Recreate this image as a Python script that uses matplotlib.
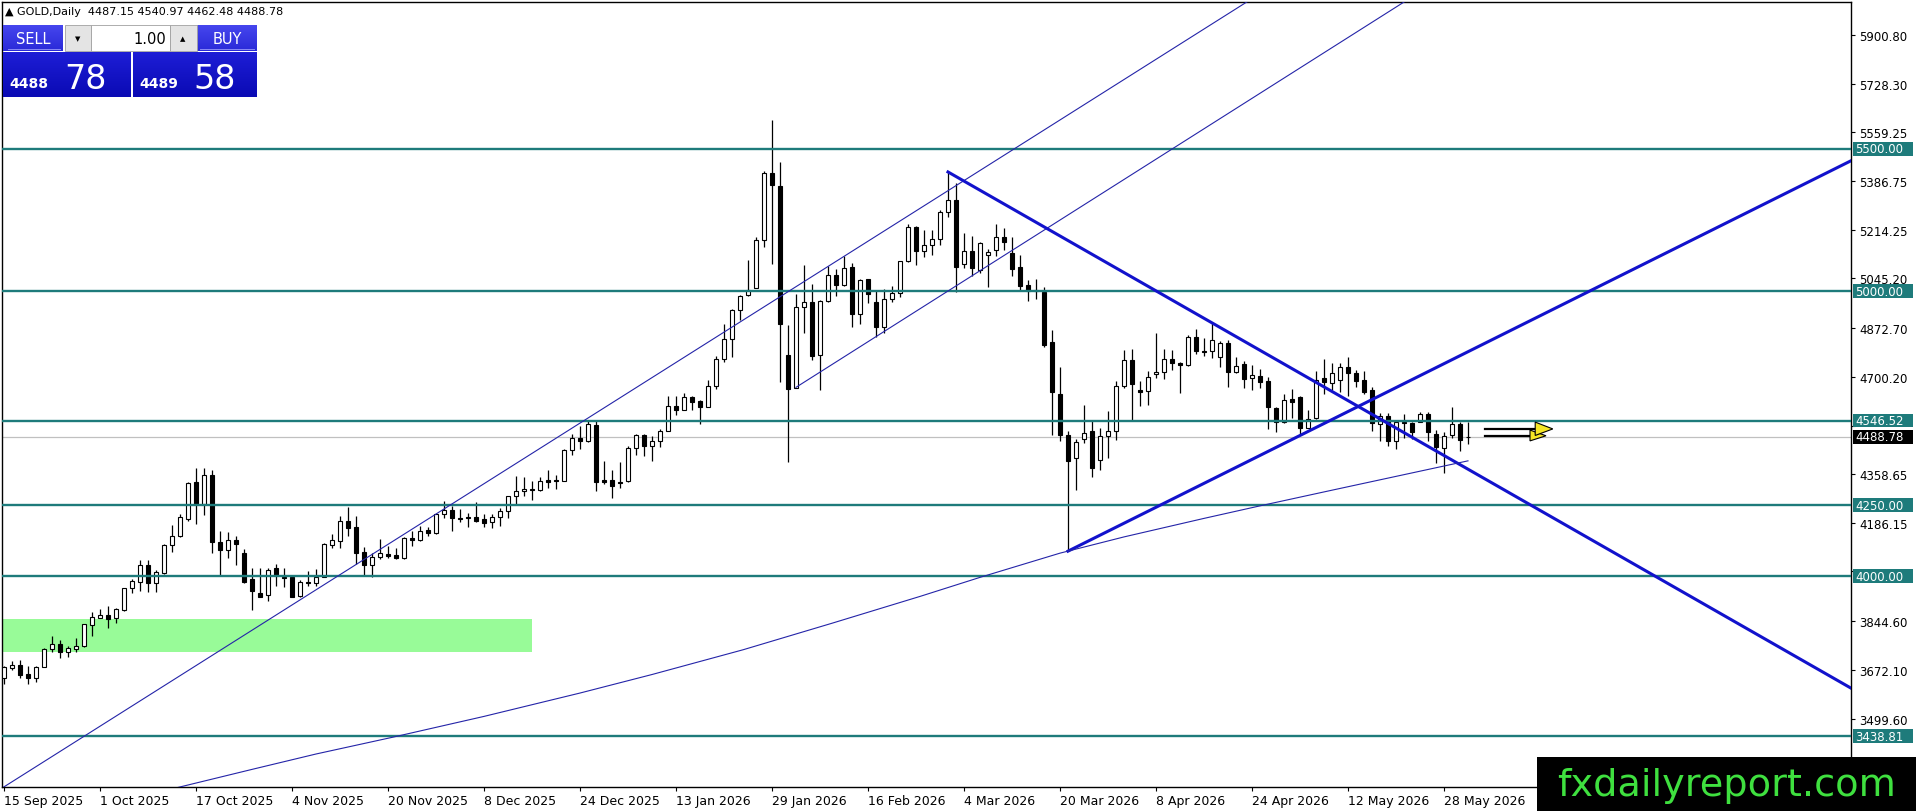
import numpy as np
import matplotlib.pyplot as plt
import matplotlib.transforms as mtransforms
from matplotlib.patches import Rectangle, Polygon
from matplotlib.colors import LinearSegmentedColormap

W, H = 1916, 812

# daily OHLC (bar 0 = 15 Sep 2025)
opens = [3642, 3677, 3688, 3656, 3642, 3683, 3743, 3761, 3733, 3745,
         3754, 3830, 3854, 3864, 3852, 3881, 3957, 3981, 4039, 3975,
         4011, 4110, 4140, 4201, 4330, 4254, 4355, 4121, 4093, 4127,
         4080, 3990, 3941, 3934, 4028, 3998, 3998, 3929, 3981, 3975,
         3998, 4111, 4125, 4193, 4172, 4086, 4041, 4069, 4078, 4074,
         4063, 4133, 4128, 4163, 4152, 4217, 4234, 4206, 4209, 4207,
         4200, 4189, 4208, 4228, 4280, 4298, 4306, 4302, 4337, 4337,
         4335, 4444, 4484, 4475, 4532, 4337, 4338, 4332, 4333, 4450,
         4497, 4456, 4476, 4511, 4596, 4585, 4628, 4616, 4593, 4666,
         4763, 4831, 4934, 4987, 5012, 5179, 5415, 5371, 4778, 4661,
         4945, 4963, 4778, 4965, 5059, 5023, 5086, 4921, 5043, 4963,
         4875, 4974, 4994, 5105, 5226, 5141, 5164, 5184, 5278, 5322,
         5096, 5141, 5076, 5129, 5146, 5191, 5135, 5086, 5022, 5006,
         4998, 4822, 4641, 4497, 4415, 4481, 4509, 4409, 4493, 4509,
         4667, 4760, 4653, 4649, 4710, 4717, 4763, 4750, 4743, 4840,
         4790, 4790, 4770, 4819, 4717, 4746, 4695, 4703, 4684, 4590,
         4540, 4623, 4629, 4520, 4555, 4695, 4678, 4689, 4734, 4713,
         4689, 4652, 4535, 4564, 4476, 4543, 4537, 4543, 4570, 4499,
         4450, 4494, 4535, 4487.15]
highs = [3686, 3701, 3706, 3684, 3684, 3747, 3789, 3777, 3756, 3782,
         3832, 3873, 3885, 3894, 3887, 3960, 3990, 4057, 4057, 4021,
         4113, 4180, 4218, 4332, 4379, 4379, 4374, 4160, 4154, 4142,
         4095, 4028, 4028, 4028, 4043, 4028, 4002, 3988, 4017, 4025,
         4115, 4147, 4210, 4242, 4210, 4104, 4082, 4131, 4107, 4098,
         4137, 4160, 4175, 4172, 4220, 4265, 4248, 4236, 4221, 4262,
         4218, 4220, 4238, 4283, 4353, 4347, 4335, 4347, 4373, 4355,
         4447, 4499, 4528, 4546, 4546, 4406, 4374, 4402, 4456, 4499,
         4499, 4493, 4517, 4634, 4634, 4643, 4634, 4620, 4690, 4772,
         4887, 4938, 4988, 5111, 5191, 5421, 5600, 5453, 4883, 4992,
         5091, 5024, 4971, 5088, 5078, 5123, 5100, 5043, 5045, 5006,
         5009, 5020, 5108, 5238, 5228, 5216, 5216, 5287, 5419, 5380,
         5205, 5193, 5172, 5149, 5236, 5222, 5191, 5126, 5039, 5043,
         5015, 4863, 4735, 4509, 4480, 4602, 4550, 4520, 4579, 4684,
         4793, 4799, 4684, 4719, 4854, 4798, 4793, 4751, 4845, 4868,
         4836, 4889, 4825, 4828, 4770, 4754, 4742, 4727, 4699, 4593,
         4640, 4657, 4632, 4584, 4722, 4762, 4750, 4750, 4769, 4724,
         4719, 4664, 4572, 4572, 4547, 4570, 4541, 4575, 4575, 4512,
         4505, 4593, 4540, 4540.97]
lows = [3622, 3672, 3642, 3622, 3628, 3681, 3735, 3714, 3718, 3733,
        3750, 3789, 3854, 3817, 3835, 3879, 3941, 3948, 3943, 3943,
        4008, 4086, 4138, 4195, 4183, 4215, 4082, 4002, 4063, 4041,
        3976, 3883, 3926, 3912, 3967, 3961, 3926, 3926, 3967, 3967,
        3996, 4098, 4098, 4142, 4043, 4002, 3996, 4060, 4063, 4060,
        4060, 4107, 4125, 4142, 4148, 4203, 4160, 4189, 4172, 4189,
        4172, 4168, 4177, 4203, 4252, 4283, 4269, 4300, 4309, 4306,
        4333, 4425, 4446, 4470, 4300, 4324, 4273, 4309, 4332, 4427,
        4421, 4406, 4452, 4509, 4566, 4584, 4585, 4535, 4593, 4657,
        4751, 4770, 4898, 4985, 5012, 5156, 5097, 4681, 4400, 4661,
        4852, 4758, 4655, 4962, 4985, 5018, 4875, 4887, 4959, 4840,
        4852, 4961, 4980, 5102, 5094, 5119, 5129, 5164, 5261, 4997,
        5082, 5053, 5065, 5015, 5123, 5146, 5053, 5006, 4965, 4973,
        4804, 4497, 4474, 4088, 4304, 4468, 4348, 4372, 4415, 4477,
        4661, 4550, 4596, 4602, 4696, 4694, 4725, 4643, 4739, 4780,
        4772, 4766, 4735, 4664, 4714, 4661, 4654, 4660, 4517, 4505,
        4537, 4555, 4500, 4520, 4551, 4640, 4654, 4645, 4633, 4664,
        4640, 4508, 4476, 4458, 4447, 4485, 4481, 4540, 4476, 4397,
        4362, 4485, 4441, 4462.48]
closes = [3680, 3688, 3654, 3642, 3681, 3744, 3761, 3733, 3747, 3756,
          3831, 3856, 3864, 3850, 3885, 3957, 3983, 4039, 3975, 4014,
          4110, 4140, 4207, 4327, 4254, 4355, 4121, 4093, 4127, 4112,
          3979, 3947, 3928, 4022, 4005, 3994, 3928, 3979, 3975, 3998,
          4113, 4127, 4193, 4168, 4082, 4041, 4069, 4080, 4072, 4063,
          4133, 4128, 4160, 4152, 4217, 4234, 4203, 4200, 4204, 4195,
          4188, 4208, 4228, 4280, 4299, 4306, 4301, 4335, 4329, 4333,
          4443, 4484, 4476, 4534, 4330, 4332, 4318, 4327, 4450, 4496,
          4456, 4476, 4509, 4596, 4585, 4628, 4613, 4593, 4669, 4763,
          4831, 4936, 4985, 5006, 5181, 5415, 5372, 4885, 4657, 4945,
          4961, 4774, 4967, 5056, 5021, 5082, 4921, 5039, 4991, 4875,
          4973, 4994, 5105, 5226, 5141, 5164, 5184, 5279, 5322, 5084,
          5141, 5082, 5170, 5138, 5191, 5173, 5079, 5018, 5002, 5001,
          4813, 4646, 4494, 4403, 4470, 4503, 4380, 4493, 4509, 4667,
          4760, 4675, 4647, 4698, 4718, 4763, 4749, 4743, 4840, 4790,
          4786, 4828, 4819, 4717, 4739, 4692, 4707, 4680, 4593, 4541,
          4619, 4610, 4520, 4551, 4687, 4680, 4713, 4734, 4713, 4684,
          4645, 4537, 4561, 4476, 4540, 4537, 4505, 4569, 4505, 4452,
          4493, 4534, 4479, 4488.78]

date_labels = ["15 Sep 2025", "1 Oct 2025", "17 Oct 2025", "4 Nov 2025", "20 Nov 2025",
               "8 Dec 2025", "24 Dec 2025", "13 Jan 2026", "29 Jan 2026", "16 Feb 2026",
               "4 Mar 2026", "20 Mar 2026", "8 Apr 2026", "24 Apr 2026", "12 May 2026",
               "28 May 2026"]
date_step = 12

price_ticks = [5900.80, 5728.30, 5559.25, 5386.75, 5214.25, 5045.20, 4872.70, 4700.20,
               4527.70, 4358.65, 4186.15, 4017.10, 3844.60, 3672.10, 3499.60]
hidden_ticks = [4527.70, 4017.10]   # covered by level labels
levels = [5500.00, 5000.00, 4546.52, 4250.00, 4000.00, 3438.81]
bid = 4488.78

zone_bars = (-5, 66)
zone_prices = (3735, 3850)

# trend line anchors (bar, price)
chan_upper = [(45.75, 4072), (87, 4803.5)]
chan_lower = [(99, 4663), (125.75, 5139)]
down_line = [(118, 5419), (157, 4793)]
up_line = [(133, 4088), (185.75, 4826.5)]

# moving average curve
ma_bars = [15, 21.8, 31, 39, 48.6, 60, 72, 81, 92.4, 103.5, 114.6, 122, 132,
           140, 150, 157, 166, 183]
ma_vals = [3212, 3259, 3322, 3376, 3435, 3508, 3590, 3655, 3742, 3835, 3930, 3996,
           4081, 4138, 4203, 4247, 4302, 4405]

# yellow arrow object
arrow_shaft = (185.1, 191.4, 4517, 4493)

TEAL = "#1e7b7b"
THIN = "#2424a8"
THICK = "#1212cc"
XMIN, XMAX = -0.25, 230.875
YMIN, YMAX = 3260.2, 6015.5

fig = plt.figure(figsize=(W / 100, H / 100), dpi=100)
ax = fig.add_axes([2 / W, 24 / H, 1849 / W, 785 / H])
ax.set_xlim(XMIN, XMAX)
ax.set_ylim(YMIN, YMAX)

o, h, l, c = map(np.array, (opens, highs, lows, closes))
x = np.arange(len(o))
up = c >= o

ax.add_patch(Rectangle((zone_bars[0], zone_prices[0]), zone_bars[1] - zone_bars[0],
                       zone_prices[1] - zone_prices[0], facecolor="#98fb98",
                       edgecolor="none", zorder=1))

ax.axhline(bid, color="#c0c0c0", lw=0.9, zorder=2)

ax.vlines(x, l, h, color="black", lw=0.9, zorder=3)
lo = np.minimum(o, c)
bh = np.maximum(np.abs(c - o), 2.0)
ax.bar(x[up], bh[up], bottom=lo[up], width=0.6, color="white", edgecolor="black",
       lw=0.8, zorder=4)
ax.bar(x[~up], bh[~up], bottom=lo[~up], width=0.6, color="black", edgecolor="black",
       lw=0.8, zorder=4)

for lv in levels:
    ax.axhline(lv, color=TEAL, lw=1.7, zorder=5)


def ray(p, x0, x1, **kw):
    (ax0, ay0), (ax1, ay1) = p
    k = (ay1 - ay0) / (ax1 - ax0)
    ax.plot([x0, x1], [ay0 + k * (x0 - ax0), ay0 + k * (x1 - ax0)], **kw)


ray(chan_upper, -5, 240, color=THIN, lw=0.8, zorder=6)
ray(chan_lower, chan_lower[0][0], 240, color=THIN, lw=0.8, zorder=6)
ray(down_line, down_line[0][0], 240, color=THICK, lw=2.2, zorder=6)
ray(up_line, up_line[0][0], 240, color=THICK, lw=2.2, zorder=6)
ax.plot(ma_bars, ma_vals, color=THIN, lw=0.8, zorder=6)

# arrow
x0a, x1a, ya, yb = arrow_shaft
ax.plot([x0a, x1a], [ya, ya], color="black", lw=1.6, zorder=7)
ax.plot([x0a, x1a], [yb, yb], color="black", lw=1.6, zorder=7)
ax.add_patch(Polygon([(190.75, 4513), (192.75, 4493), (190.75, 4475)], closed=True,
                     facecolor="#f5e625", edgecolor="black", lw=0.8, zorder=8))
ax.add_patch(Polygon([(191.4, 4541), (193.6, 4517), (191.4, 4494)], closed=True,
                     facecolor="#f5e625", edgecolor="black", lw=0.8, zorder=8))

# axes styling
for s in ax.spines.values():
    s.set_color("black")
    s.set_linewidth(1.0)
ax.yaxis.tick_right()
ax.set_yticks(price_ticks)
ax.set_yticklabels(["" if v in hidden_ticks else f"{v:.2f}" for v in price_ticks])
ax.tick_params(axis="y", direction="out", length=3, width=0.8, labelsize=8.5, pad=3)
ax.set_xticks(np.arange(len(date_labels)) * date_step)
ax.set_xticklabels(date_labels)
ax.tick_params(axis="x", direction="out", length=3, width=0.8, labelsize=9, pad=2)
for t in ax.get_xticklabels():
    t.set_ha("left")

blend = mtransforms.blended_transform_factory(ax.transAxes, ax.transData)
bw = 60 / 1849
for lv in levels + [bid]:
    fc = "black" if lv == bid else TEAL
    ax.add_patch(Rectangle((1.0012, lv - 24), bw, 48, transform=blend, clip_on=False,
                           facecolor=fc, edgecolor="none", zorder=10))
    ax.text(1.0025, lv, f"{lv:.2f}", transform=blend, clip_on=False, color="white",
            fontsize=8.5, ha="left", va="center", zorder=11)

# overlay in pixel coordinates: title, trade panel, watermark
ov = fig.add_axes([0, 0, 1, 1], zorder=20)
ov.patch.set_alpha(0)
ov.axis("off")


def grad(x0, y0, x1, y1, ctop, cbot):
    cm = LinearSegmentedColormap.from_list("g", [ctop, cbot])
    ov.imshow(np.linspace(0, 1, 64)[:, None], extent=(x0, x1, y1, y0), cmap=cm,
              aspect="auto", origin="upper", zorder=1)


ov.text(5, 12, "\u25b2 GOLD,Daily  4487.15 4540.97 4462.48 4488.78", fontsize=8,
        ha="left", va="center", color="black")

grad(3, 26, 63, 52, "#4646ee", "#2a2ad8")
grad(197, 26, 257, 52, "#4646ee", "#2a2ad8")
ov.add_patch(Rectangle((65, 26), 26, 26, facecolor="#e4e4e4", edgecolor="#a0a0a0",
                       lw=0.6, zorder=2))
ov.add_patch(Rectangle((91, 26), 79, 26, facecolor="white", edgecolor="#a0a0a0",
                       lw=0.6, zorder=2))
ov.add_patch(Rectangle((170, 26), 27, 26, facecolor="#e4e4e4", edgecolor="#a0a0a0",
                       lw=0.6, zorder=2))
ov.plot([8, 60], [50, 50], color="#8a8af5", lw=0.7, zorder=3)
ov.plot([200, 254], [50, 50], color="#8a8af5", lw=0.7, zorder=3)
ov.text(33, 39, "SELL", color="white", fontsize=10.5, ha="center", va="center", zorder=4)
ov.text(227, 39, "BUY", color="white", fontsize=10.5, ha="center", va="center", zorder=4)
ov.text(78, 39, "\u25bc", color="black", fontsize=5, ha="center", va="center", zorder=4)
ov.text(183, 39, "\u25b2", color="black", fontsize=5, ha="center", va="center", zorder=4)
ov.text(166, 39, "1.00", color="black", fontsize=10.5, ha="right", va="center", zorder=4)

grad(3, 53, 131, 98, "#1e1ed6", "#0a0ab4")
grad(133, 53, 257, 98, "#1e1ed6", "#0a0ab4")
ov.text(9, 88, "4488", color="white", fontsize=10, fontweight="bold", ha="left",
        va="baseline", zorder=4)
ov.text(64, 89, "78", color="white", fontsize=24, ha="left", va="baseline", zorder=4)
ov.text(139, 88, "4489", color="white", fontsize=10, fontweight="bold", ha="left",
        va="baseline", zorder=4)
ov.text(193, 89, "58", color="white", fontsize=24, ha="left", va="baseline", zorder=4)

ov.add_patch(Rectangle((1537, 758), 379, 54, facecolor="black", edgecolor="none", zorder=5))
ov.text(1727, 786, "fxdailyreport.com", color="#3fe03f", fontsize=27.5, ha="center",
        va="center", zorder=6)

ov.set_xlim(0, W)
ov.set_ylim(H, 0)

fig.savefig("out.png", dpi=100)
